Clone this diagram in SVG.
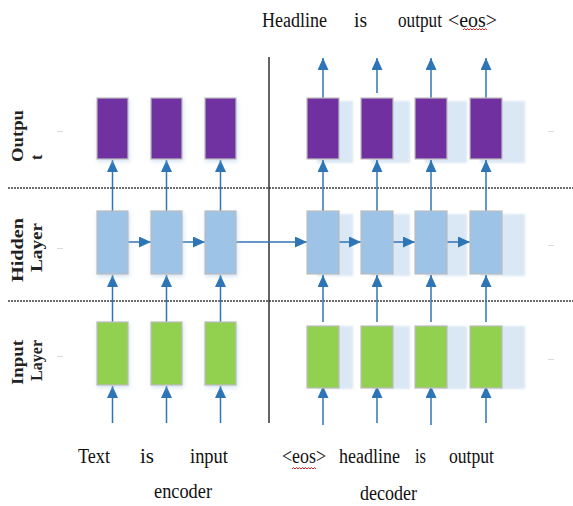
<svg xmlns="http://www.w3.org/2000/svg" width="573" height="506" viewBox="0 0 573 506">
<style>
.t{font-family:"Liberation Serif","Times New Roman",serif;font-size:20px;fill:#111}
.lbl{font-family:"Liberation Serif","Times New Roman",serif;font-size:16px;font-weight:bold;fill:#222}
.dots{font-family:"Liberation Sans",Arial,sans-serif;font-size:7px;fill:#777}
.out{fill:#7030a0;stroke:#bdbdbd;stroke-width:1.2}
.hid{fill:#9dc3e6;stroke:#bdbdbd;stroke-width:1.2}
.inp{fill:#92d050;stroke:#bdbdbd;stroke-width:1.2}
.sh{fill:#dae7f4;filter:url(#soft)}
.ar{stroke:#2e75b6;stroke-width:1.5;fill:none;marker-end:url(#ah)}
.dash{stroke:#404040;stroke-width:1.6;stroke-dasharray:2 1}
.wav{stroke:#e02020;stroke-width:1;fill:none}
</style>
<defs>
<marker id="ah" markerUnits="userSpaceOnUse" markerWidth="12" markerHeight="11" refX="12" refY="5.5" orient="auto">
<path d="M0,0 L12,5.5 L0,11 z" fill="#2e75b6"/>
</marker>
<filter id="soft" x="-20%" y="-20%" width="140%" height="140%"><feGaussianBlur stdDeviation="0.8"/></filter>
<filter id="glow" x="-30%" y="-30%" width="160%" height="160%"><feDropShadow dx="1" dy="2" stdDeviation="2" flood-color="#9dc3e6" flood-opacity="0.45"/></filter>
</defs>
<rect width="573" height="506" fill="#fff"/>

<g id="layer-lines">
<line class="dash" x1="8" y1="188" x2="573" y2="188"/>
<line class="dash" x1="8" y1="301" x2="573" y2="301"/>
<line x1="269" y1="57" x2="269" y2="423" stroke="#111" stroke-width="1.3"/>
</g>

<g id="labels">
<text class="lbl" transform="translate(23,162) rotate(-90)" textLength="52" lengthAdjust="spacingAndGlyphs">Outpu</text>
<text class="lbl" transform="translate(42,160) rotate(-90)">t</text>
<text class="lbl" transform="translate(23,282) rotate(-90)" textLength="64" lengthAdjust="spacingAndGlyphs">Hidden</text>
<text class="lbl" transform="translate(42,272) rotate(-90)" textLength="49" lengthAdjust="spacingAndGlyphs">Layer</text>
<text class="lbl" transform="translate(23,385) rotate(-90)" textLength="45" lengthAdjust="spacingAndGlyphs">Input</text>
<text class="lbl" transform="translate(42,381) rotate(-90)" textLength="41" lengthAdjust="spacingAndGlyphs">Layer</text>
<text class="dots" x="57" y="132">...</text>
<text class="dots" x="57" y="249">...</text>
<text class="dots" x="57" y="357">...</text>
<text class="dots" x="548" y="132">...</text>
<text class="dots" x="548" y="246">...</text>
<text class="dots" x="548" y="360">...</text>
</g>

<g id="decoder-shadows">
<rect class="sh" x="317" y="101" width="36" height="62"/>
<rect class="sh" x="371" y="101" width="39" height="62"/>
<rect class="sh" x="425" y="101" width="42" height="62"/>
<rect class="sh" x="480" y="101" width="45" height="62"/>
<rect class="sh" x="317" y="214" width="36" height="62"/>
<rect class="sh" x="371" y="214" width="39" height="62"/>
<rect class="sh" x="425" y="214" width="42" height="62"/>
<rect class="sh" x="480" y="214" width="45" height="62"/>
<rect class="sh" x="317" y="326" width="36" height="63"/>
<rect class="sh" x="371" y="326" width="39" height="63"/>
<rect class="sh" x="425" y="326" width="42" height="63"/>
<rect class="sh" x="480" y="326" width="45" height="63"/>
</g>

<g id="connectors">
<line class="ar" x1="112.5" y1="423" x2="112.5" y2="386"/>
<line class="ar" x1="166.5" y1="423" x2="166.5" y2="386"/>
<line class="ar" x1="220.5" y1="423" x2="220.5" y2="386"/>
<line class="ar" x1="323" y1="425" x2="323" y2="386"/>
<line class="ar" x1="377" y1="423" x2="377" y2="386"/>
<line class="ar" x1="431" y1="425" x2="431" y2="386"/>
<line class="ar" x1="486" y1="423" x2="486" y2="386"/>
<line class="ar" x1="112.5" y1="322" x2="112.5" y2="275"/>
<line class="ar" x1="166.5" y1="322" x2="166.5" y2="275"/>
<line class="ar" x1="220.5" y1="322" x2="220.5" y2="275"/>
<line class="ar" x1="323" y1="322" x2="323" y2="275"/>
<line class="ar" x1="377" y1="322" x2="377" y2="275"/>
<line class="ar" x1="431" y1="322" x2="431" y2="275"/>
<line class="ar" x1="486" y1="322" x2="486" y2="275"/>
<line class="ar" x1="112.5" y1="211" x2="112.5" y2="160"/>
<line class="ar" x1="166.5" y1="211" x2="166.5" y2="160"/>
<line class="ar" x1="220.5" y1="211" x2="220.5" y2="160"/>
<line class="ar" x1="323" y1="211" x2="323" y2="160"/>
<line class="ar" x1="377" y1="211" x2="377" y2="160"/>
<line class="ar" x1="431" y1="211" x2="431" y2="160"/>
<line class="ar" x1="486" y1="211" x2="486" y2="160"/>
<line class="ar" x1="323" y1="98" x2="323" y2="58"/>
<line class="ar" x1="377" y1="93" x2="377" y2="58"/>
<line class="ar" x1="431" y1="98" x2="431" y2="58"/>
<line class="ar" x1="486" y1="98" x2="486" y2="58"/>
<line class="ar" x1="128" y1="242" x2="151" y2="242"/>
<line class="ar" x1="182" y1="242" x2="205" y2="242"/>
<line class="ar" x1="236" y1="242" x2="307" y2="242"/>
<line class="ar" x1="339" y1="242" x2="361" y2="242"/>
<line class="ar" x1="393" y1="242" x2="415" y2="242"/>
<line class="ar" x1="447" y1="242" x2="470" y2="242"/>
</g>

<g id="enc-out-1"><rect class="out" x="97" y="98" width="31" height="61" filter="url(#glow)"/></g>
<g id="enc-out-2"><rect class="out" x="151" y="98" width="31" height="61" filter="url(#glow)"/></g>
<g id="enc-out-3"><rect class="out" x="205" y="98" width="31" height="61" filter="url(#glow)"/></g>
<g id="enc-hid-1"><rect class="hid" x="97" y="211" width="31" height="63" filter="url(#glow)"/></g>
<g id="enc-hid-2"><rect class="hid" x="151" y="211" width="31" height="63" filter="url(#glow)"/></g>
<g id="enc-hid-3"><rect class="hid" x="205" y="211" width="31" height="63" filter="url(#glow)"/></g>
<g id="enc-in-1"><rect class="inp" x="97" y="322" width="31" height="63" filter="url(#glow)"/></g>
<g id="enc-in-2"><rect class="inp" x="151" y="322" width="31" height="63" filter="url(#glow)"/></g>
<g id="enc-in-3"><rect class="inp" x="205" y="322" width="31" height="63" filter="url(#glow)"/></g>

<g id="dec-out-1"><rect class="out" x="307" y="98" width="32" height="61"/></g>
<g id="dec-out-2"><rect class="out" x="361" y="98" width="32" height="61"/></g>
<g id="dec-out-3"><rect class="out" x="415" y="98" width="32" height="61"/></g>
<g id="dec-out-4"><rect class="out" x="470" y="98" width="32" height="61"/></g>
<g id="dec-hid-1"><rect class="hid" x="307" y="211" width="32" height="63"/></g>
<g id="dec-hid-2"><rect class="hid" x="361" y="211" width="32" height="63"/></g>
<g id="dec-hid-3"><rect class="hid" x="415" y="211" width="32" height="63"/></g>
<g id="dec-hid-4"><rect class="hid" x="470" y="211" width="32" height="63"/></g>
<g id="dec-in-1"><rect class="inp" x="307" y="326" width="32" height="62"/></g>
<g id="dec-in-2"><rect class="inp" x="361" y="326" width="32" height="62"/></g>
<g id="dec-in-3"><rect class="inp" x="415" y="326" width="32" height="62"/></g>
<g id="dec-in-4"><rect class="inp" x="470" y="326" width="32" height="62"/></g>

<g id="top-words">
<text class="t" x="262" y="27" textLength="65" lengthAdjust="spacingAndGlyphs">Headline</text>
<text class="t" x="354" y="27" textLength="13" lengthAdjust="spacingAndGlyphs">is</text>
<text class="t" x="398" y="27" textLength="44" lengthAdjust="spacingAndGlyphs">output</text>
<text class="t" x="448" y="27" textLength="49" lengthAdjust="spacingAndGlyphs">&lt;eos&gt;</text>
<path class="wav" d="M463,30 l1.5,-1.5 l1.5,1.5 l1.5,-1.5 l1.5,1.5 l1.5,-1.5 l1.5,1.5 l1.5,-1.5 l1.5,1.5 l1.5,-1.5 l1.5,1.5 l1.5,-1.5 l1.5,1.5 l1.5,-1.5 l1.5,1.5 l1.5,-1.5 l1.5,1.5"/>
</g>

<g id="bottom-words">
<text class="t" x="78" y="463" textLength="32" lengthAdjust="spacingAndGlyphs">Text</text>
<text class="t" x="140" y="463" textLength="14" lengthAdjust="spacingAndGlyphs">is</text>
<text class="t" x="190" y="463" textLength="38" lengthAdjust="spacingAndGlyphs">input</text>
<text class="t" x="154" y="498" textLength="58" lengthAdjust="spacingAndGlyphs">encoder</text>
<text class="t" x="282" y="463" textLength="44" lengthAdjust="spacingAndGlyphs">&lt;eos&gt;</text>
<path class="wav" d="M292,469 l1.5,-1.5 l1.5,1.5 l1.5,-1.5 l1.5,1.5 l1.5,-1.5 l1.5,1.5 l1.5,-1.5 l1.5,1.5 l1.5,-1.5 l1.5,1.5 l1.5,-1.5 l1.5,1.5 l1.5,-1.5 l1.5,1.5 l1.5,-1.5 l1.5,1.5"/>
<text class="t" x="339" y="463" textLength="61" lengthAdjust="spacingAndGlyphs">headline</text>
<text class="t" x="415" y="463" textLength="11" lengthAdjust="spacingAndGlyphs">is</text>
<text class="t" x="449" y="463" textLength="45" lengthAdjust="spacingAndGlyphs">output</text>
<text class="t" x="360" y="500" textLength="57" lengthAdjust="spacingAndGlyphs">decoder</text>
</g>
</svg>
